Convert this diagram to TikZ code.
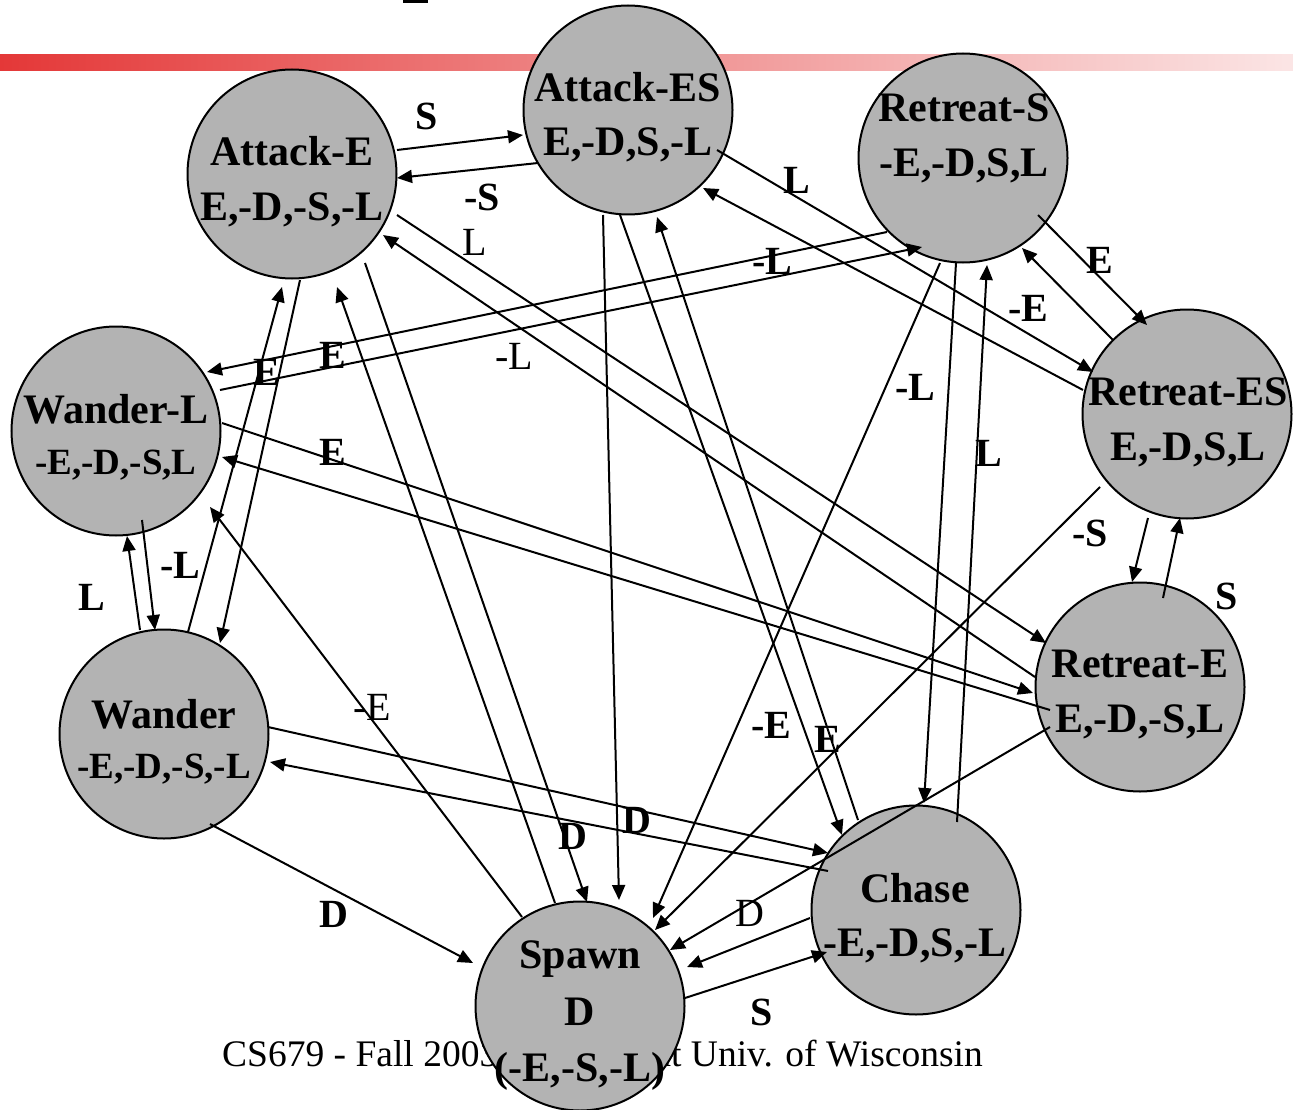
\documentclass[tikz,border=0pt]{standalone}
\usepackage{fontspec}
\setmainfont{Liberation Serif}
\usetikzlibrary{arrows.meta,calc}
\definecolor{stategray}{RGB}{179,179,179}
\definecolor{barL}{RGB}{228,56,56}
\definecolor{barR}{RGB}{251,229,229}
\newcommand\myfs[2]{\fontsize{#1}{#2}\selectfont}
\tikzset{
  state/.style={circle, draw=black, line width=2pt, fill=stategray, minimum size=209pt, inner sep=0pt},
  stline/.style={font=\bfseries\myfs{42}{50}, inner sep=0pt, anchor=base},
  stsmall/.style={font=\bfseries\myfs{37}{44}, inner sep=0pt, anchor=base},
  lab/.style={font=\bfseries\myfs{40}{48}, inner sep=0pt},
  labr/.style={font=\myfs{40}{48}, inner sep=0pt},
  conn/.style={line width=2pt, -{Triangle[length=15pt,width=13pt]}},
}
\begin{document}
\begin{tikzpicture}[x=1pt,y=-1pt]
\useasboundingbox (0,0) rectangle (1293,1110);
% header bar and title fragment
\shade[left color=barL, right color=barR] (0,55) rectangle (1293,71);
\fill[black] (403,0) rectangle (428,3);
% footer
\node[anchor=base west, inner sep=0pt, font=\myfs{37.5}{44}] (foot) at (222,1066) {CS679 - Fall 2003 - Copyright Univ. of Wisconsin};
% states
\node[state] (AE)  at (292,174) {};
\node[state] (AES) at (628,110) {};
\node[state] (RS)  at (963,158) {};
\node[state] (RES) at (1187,414) {};
\node[state] (RE)  at (1140,687) {};
\node[state] (CH)  at (916,910) {};
\node[state] (SP)  at (580,1006) {};
\node[state] (WA)  at (164,734) {};
\node[state] (WL)  at (116,431) {};
% connectors
\draw[conn] ($(AE)+(105,-24)$) -- ($(AES)+(-105,25)$);
\draw[conn] ($(AES)+(-90,53)$) -- ($(AE)+(105,4)$);
\draw[conn] ($(AES)+(89,40)$) -- ($(RES)+(-94,-42)$);
\draw[conn] ($(RES)+(-104,-24)$) -- ($(AES)+(75,78)$);
\draw[conn] ($(RS)+(75,57)$) -- ($(RES)+(-40,-89)$);
\draw[conn] ($(RES)+(-74,-74)$) -- ($(RS)+(59,90)$);
\draw[conn] ($(RES)+(-39,104)$) -- ($(RE)+(-8,-105)$);
\draw[conn] ($(RE)+(23,-89)$) -- ($(RES)+(-7,104)$);
\draw[conn] ($(RS)+(-7,105)$) -- ($(CH)+(8,-107)$);
\draw[conn] ($(CH)+(41,-88)$) -- ($(RS)+(24,107)$);
\draw[conn] ($(RS)+(-23,105)$) -- ($(SP)+(73,-88)$);
\draw[conn] ($(RES)+(-87,73)$) -- ($(SP)+(75,-76)$);
\draw[conn] ($(RE)+(-90,40)$) -- ($(SP)+(90,-56)$);
\draw[conn] ($(CH)+(-106,8)$) -- ($(SP)+(107,-39)$);
\draw[conn] ($(SP)+(105,-8)$) -- ($(CH)+(-89,42)$);
\draw[conn] ($(AES)+(-8,105)$) -- ($(CH)+(-74,-75)$);
\draw[conn] ($(CH)+(-58,-90)$) -- ($(AES)+(29,107)$);
\draw[conn] ($(AES)+(-25,105)$) -- ($(SP)+(39,-106)$);
\draw[conn] ($(AE)+(73,89)$) -- ($(SP)+(7,-104)$);
\draw[conn] ($(SP)+(-25,-103)$) -- ($(AE)+(45,113)$);
\draw[conn] ($(AE)+(8,106)$) -- ($(WA)+(56,-91)$);
\draw[conn] ($(WA)+(24,-102)$) -- ($(AE)+(-10,113)$);
\draw[conn] ($(WL)+(26,89)$) -- ($(WA)+(-9,-104)$);
\draw[conn] ($(WA)+(-24,-104)$) -- ($(WL)+(11,105)$);
\draw[conn] ($(RS)+(-76,74)$) -- ($(WL)+(91,-59)$);
\draw[conn] ($(WL)+(104,-41)$) -- ($(RS)+(-41,89)$);
\draw[conn] ($(WL)+(106,-8)$) -- ($(RE)+(-107,6)$);
\draw[conn] ($(RE)+(-90,23)$) -- ($(WL)+(106,26)$);
\draw[conn] ($(AE)+(105,41)$) -- ($(RE)+(-94,-44)$);
\draw[conn] ($(RE)+(-105,-10)$) -- ($(AE)+(91,61)$);
\draw[conn] ($(WA)+(104,-7)$) -- ($(CH)+(-88,-57)$);
\draw[conn] ($(CH)+(-88,-39)$) -- ($(WA)+(106,28)$);
\draw[conn] ($(WA)+(46,90)$) -- ($(SP)+(-107,-43)$);
\draw[conn] ($(SP)+(-58,-89)$) -- ($(WL)+(94,76)$);
% state texts
\node[stline] (AEa) at (292,166) {Attack-E};
\node[stline] (AEb) at (292,221) {E,-D,-S,-L};
\node[stline] (AESa) at (628,102) {Attack-ES};
\node[stline] (AESb) at (628,156) {E,-D,S,-L};
\node[stline] (RSa) at (964,122) {Retreat-S};
\node[stline] (RSb) at (964,177) {-E,-D,S,L};
\node[stline] (RESa) at (1188,405) {Retreat-ES};
\node[stline] (RESb) at (1188,460) {E,-D,S,L};
\node[stline] (REa) at (1140,677) {Retreat-E};
\node[stline] (REb) at (1140,732) {E,-D,-S,L};
\node[stline] (CHa) at (915,902) {Chase};
\node[stline] (CHb) at (915,956) {-E,-D,S,-L};
\node[stline] (SPa) at (580,968) {Spawn};
\node[stline] (SPb) at (580,1025) {D};
\node[stline] (SPc) at (580,1081) {(-E,-S,-L)};
\node[stline] (WAa) at (164,728) {Wander};
\node[stsmall] (WAb) at (164,778) {-E,-D,-S,-L};
\node[stline] (WLa) at (116,423) {Wander-L};
\node[stsmall] (WLb) at (116,474) {-E,-D,-S,L};
% connector labels
\node[lab] (lS1) at (427,116) {S};
\node[lab] (lmS1) at (482,197) {-S};
\node[lab] (lL1) at (797,180) {L};
\node[labr] (lL2) at (475,242) {L};
\node[lab] (lmL1) at (772,261) {-L};
\node[lab] (lE1) at (1100,260) {E};
\node[lab] (lmE1) at (1028,308) {-E};
\node[labr] (lmL2) at (514,356) {-L};
\node[lab] (lE2) at (333,355) {E};
\node[lab] (lE3) at (267,372) {E};
\node[lab] (lmL3) at (915,387) {-L};
\node[lab] (lE4) at (333,452) {E};
\node[lab] (lL3) at (989,453) {L};
\node[lab] (lmS2) at (1090,533) {-S};
\node[lab] (lmL4) at (180,565) {-L};
\node[lab] (lL4) at (92,597) {L};
\node[lab] (lS2) at (1227,596) {S};
\node[labr] (lmE2) at (372,707) {-E};
\node[lab] (lmE3) at (771,725) {-E};
\node[lab] (lE5) at (828,739) {E};
\node[lab] (lD1) at (637,820) {D};
\node[lab] (lD2) at (573,836) {D};
\node[labr] (lD3) at (750,913) {D};
\node[lab] (lD4) at (334,914) {D};
\node[lab] (lS3) at (762,1012) {S};
\end{tikzpicture}
\end{document}
